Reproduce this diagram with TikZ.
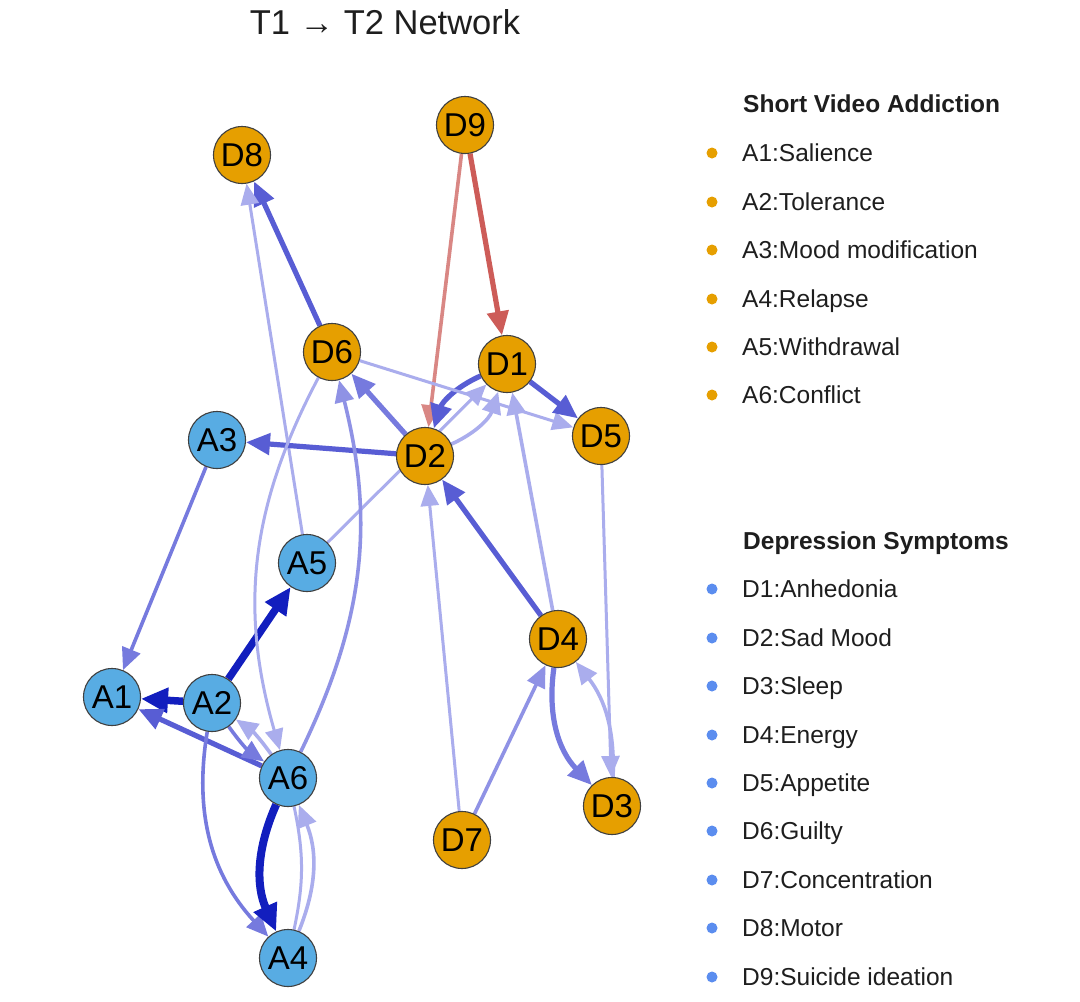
\documentclass[tikz,border=0pt]{standalone}
\usepackage{fontspec}
\setmainfont{Liberation Sans}
\usetikzlibrary{arrows.meta}
\definecolor{dorange}{HTML}{E69F00}
\definecolor{ablue}{HTML}{58ACE3}
\definecolor{legblue}{HTML}{5B8DEF}
\definecolor{redA}{RGB}{205,92,88}
\definecolor{redB}{RGB}{217,135,132}
\definecolor{bdark}{RGB}{18,30,190}
\definecolor{bmid}{RGB}{88,93,212}
\definecolor{bmidb}{RGB}{118,122,222}
\definecolor{blight}{RGB}{143,146,229}
\definecolor{blighter}{RGB}{170,173,237}
\definecolor{txt}{RGB}{30,30,30}
\pgfdeclarelayer{back}
\pgfdeclarelayer{bg}
\pgfsetlayers{back,bg,main}
\begin{document}
\begin{tikzpicture}[x=1pt,y=-1pt,
  nd/.style={circle,draw=black!75,line width=1.1pt,minimum size=57pt,inner sep=0pt,text=black,font=\fontsize{33}{33}\selectfont},
  an/.style={nd,fill=ablue},
  dn/.style={nd,fill=dorange},
  ethick/.style={line width=7.5pt,-{Triangle[length=27pt,width=24pt]}},
  emid/.style={line width=5.2pt,-{Triangle[length=24pt,width=21pt]}},
  ethin/.style={line width=3.6pt,-{Triangle[length=22pt,width=19pt]}},
  evthin/.style={line width=3pt,-{Triangle[length=21pt,width=18pt]}},
  legt/.style={anchor=base west,inner sep=0pt,text=txt,font=\fontsize{24.5}{24.5}\selectfont},
  legh/.style={anchor=base west,inner sep=0pt,text=txt,font=\bfseries\fontsize{24.5}{24.5}\selectfont},
  dotA/.style={circle,fill=dorange,minimum size=11pt,inner sep=0pt},
  dotD/.style={circle,fill=legblue,minimum size=11pt,inner sep=0pt}
]
\useasboundingbox (0,0) rectangle (1080,1002);
\begin{pgfonlayer}{back}
\fill[white] (0,0) rectangle (1080,1002);
\end{pgfonlayer}

% title
\node[font=\fontsize{34.5}{34.5}\selectfont,text=txt] (title) at (385,22) {T1 → T2 Network};

% nodes
\node[dn] (D9) at (465,125) {D9};
\node[dn] (D8) at (242,155) {D8};
\node[dn] (D6) at (332,352) {D6};
\node[dn] (D1) at (507,364) {D1};
\node[dn] (D5) at (601,436) {D5};
\node[an] (A3) at (217,440) {A3};
\node[dn] (D2) at (425,456) {D2};
\node[an] (A5) at (307,563) {A5};
\node[dn] (D4) at (558,639) {D4};
\node[an] (A1) at (112,697) {A1};
\node[an] (A2) at (212,703) {A2};
\node[an] (A6) at (288,778) {A6};
\node[dn] (D3) at (612,806) {D3};
\node[dn] (D7) at (462,840) {D7};
\node[an] (A4) at (288,958) {A4};

\begin{pgfonlayer}{bg}
% red edges
\draw[emid,redA] (D9) -- (D1);
\draw[ethin,redB] (D9) -- (D2);
% D cluster
\draw[emid,bmid] (D6) -- (D8);
\draw[evthin,blighter] (A5) -- (D8);
\draw[emid,bmidb] (D2) -- (D6);
\draw[emid,bmid] (D2) -- (A3);
\draw[emid,bmid] (D1) to[bend right=24] (D2);
\draw[ethin,blighter] (D2) to[bend right=24] (D1);
\draw[evthin,blighter] (A5) -- (D1);
\draw[evthin,blighter] (D6) -- (D5);
\draw[emid,bmid] (D1) -- (D5);
\draw[emid,bmid] (D4) -- (D2);
\draw[ethin,blighter] (D4) -- (D1);
\draw[evthin,blighter] (D7) -- (D2);
\draw[ethin,blight] (D7) -- (D4);
\draw[emid,bmidb] (D4) to[bend right=26] (D3);
\draw[ethin,blighter] (D3) to[bend right=20] (D4);
\draw[evthin,blighter] (D5) -- (D3);
% A cluster
\draw[ethin,bmidb] (A3) -- (A1);
\draw[ethick,bdark] (A2) -- (A1);
\draw[ethick,bdark] (A2) -- (A5);
\draw[emid,bmid] (A6) -- (A1);
\draw[ethin,bmidb] (A2) to[bend right=10] (A6);
\draw[ethin,blighter] (A6) to[bend right=10] (A2);
\draw[evthin,blighter] (D6) to[bend right=22] (A6);
\draw[ethin,blight] (A6) to[bend right=20] (D6);
\draw[ethin,bmidb] (A2) to[bend right=26] (A4);
\draw[line width=8pt,bdark,-{Triangle[length=27pt,width=24pt]}] (A6) to[bend right=24] (A4);
\draw[ethin,blighter] (A4) to[bend right=22] (A6);
\draw[line width=3pt,blighter] (A6) to[bend left=12] (A4);
\end{pgfonlayer}

% legend
\node[legh] (h1) at (743,112.5) {Short Video Addiction};
\node[dotA] (b1) at (712,153) {}; \node[legt] (l1) at (742,161.5) {A1:Salience};
\node[dotA] (b2) at (712,202) {}; \node[legt] (l2) at (742,210.5) {A2:Tolerance};
\node[dotA] (b3) at (712,250) {}; \node[legt] (l3) at (742,258.5) {A3:Mood modification};
\node[dotA] (b4) at (712,299) {}; \node[legt] (l4) at (742,307.5) {A4:Relapse};
\node[dotA] (b5) at (712,347) {}; \node[legt] (l5) at (742,355.5) {A5:Withdrawal};
\node[dotA] (b6) at (712,395) {}; \node[legt] (l6) at (742,403.5) {A6:Conflict};

\node[legh] (h2) at (743,549.5) {Depression Symptoms};
\node[dotD] (c1) at (712,589) {}; \node[legt] (m1) at (742,597.5) {D1:Anhedonia};
\node[dotD] (c2) at (712,638) {}; \node[legt] (m2) at (742,646.5) {D2:Sad Mood};
\node[dotD] (c3) at (712,686) {}; \node[legt] (m3) at (742,694.5) {D3:Sleep};
\node[dotD] (c4) at (712,735) {}; \node[legt] (m4) at (742,743.5) {D4:Energy};
\node[dotD] (c5) at (712,783) {}; \node[legt] (m5) at (742,791.5) {D5:Appetite};
\node[dotD] (c6) at (712,831) {}; \node[legt] (m6) at (742,839.5) {D6:Guilty};
\node[dotD] (c7) at (712,880) {}; \node[legt] (m7) at (742,888.5) {D7:Concentration};
\node[dotD] (c8) at (712,928) {}; \node[legt] (m8) at (742,936.5) {D8:Motor};
\node[dotD] (c9) at (712,977) {}; \node[legt] (m9) at (742,985.5) {D9:Suicide ideation};
\end{tikzpicture}
\end{document}
